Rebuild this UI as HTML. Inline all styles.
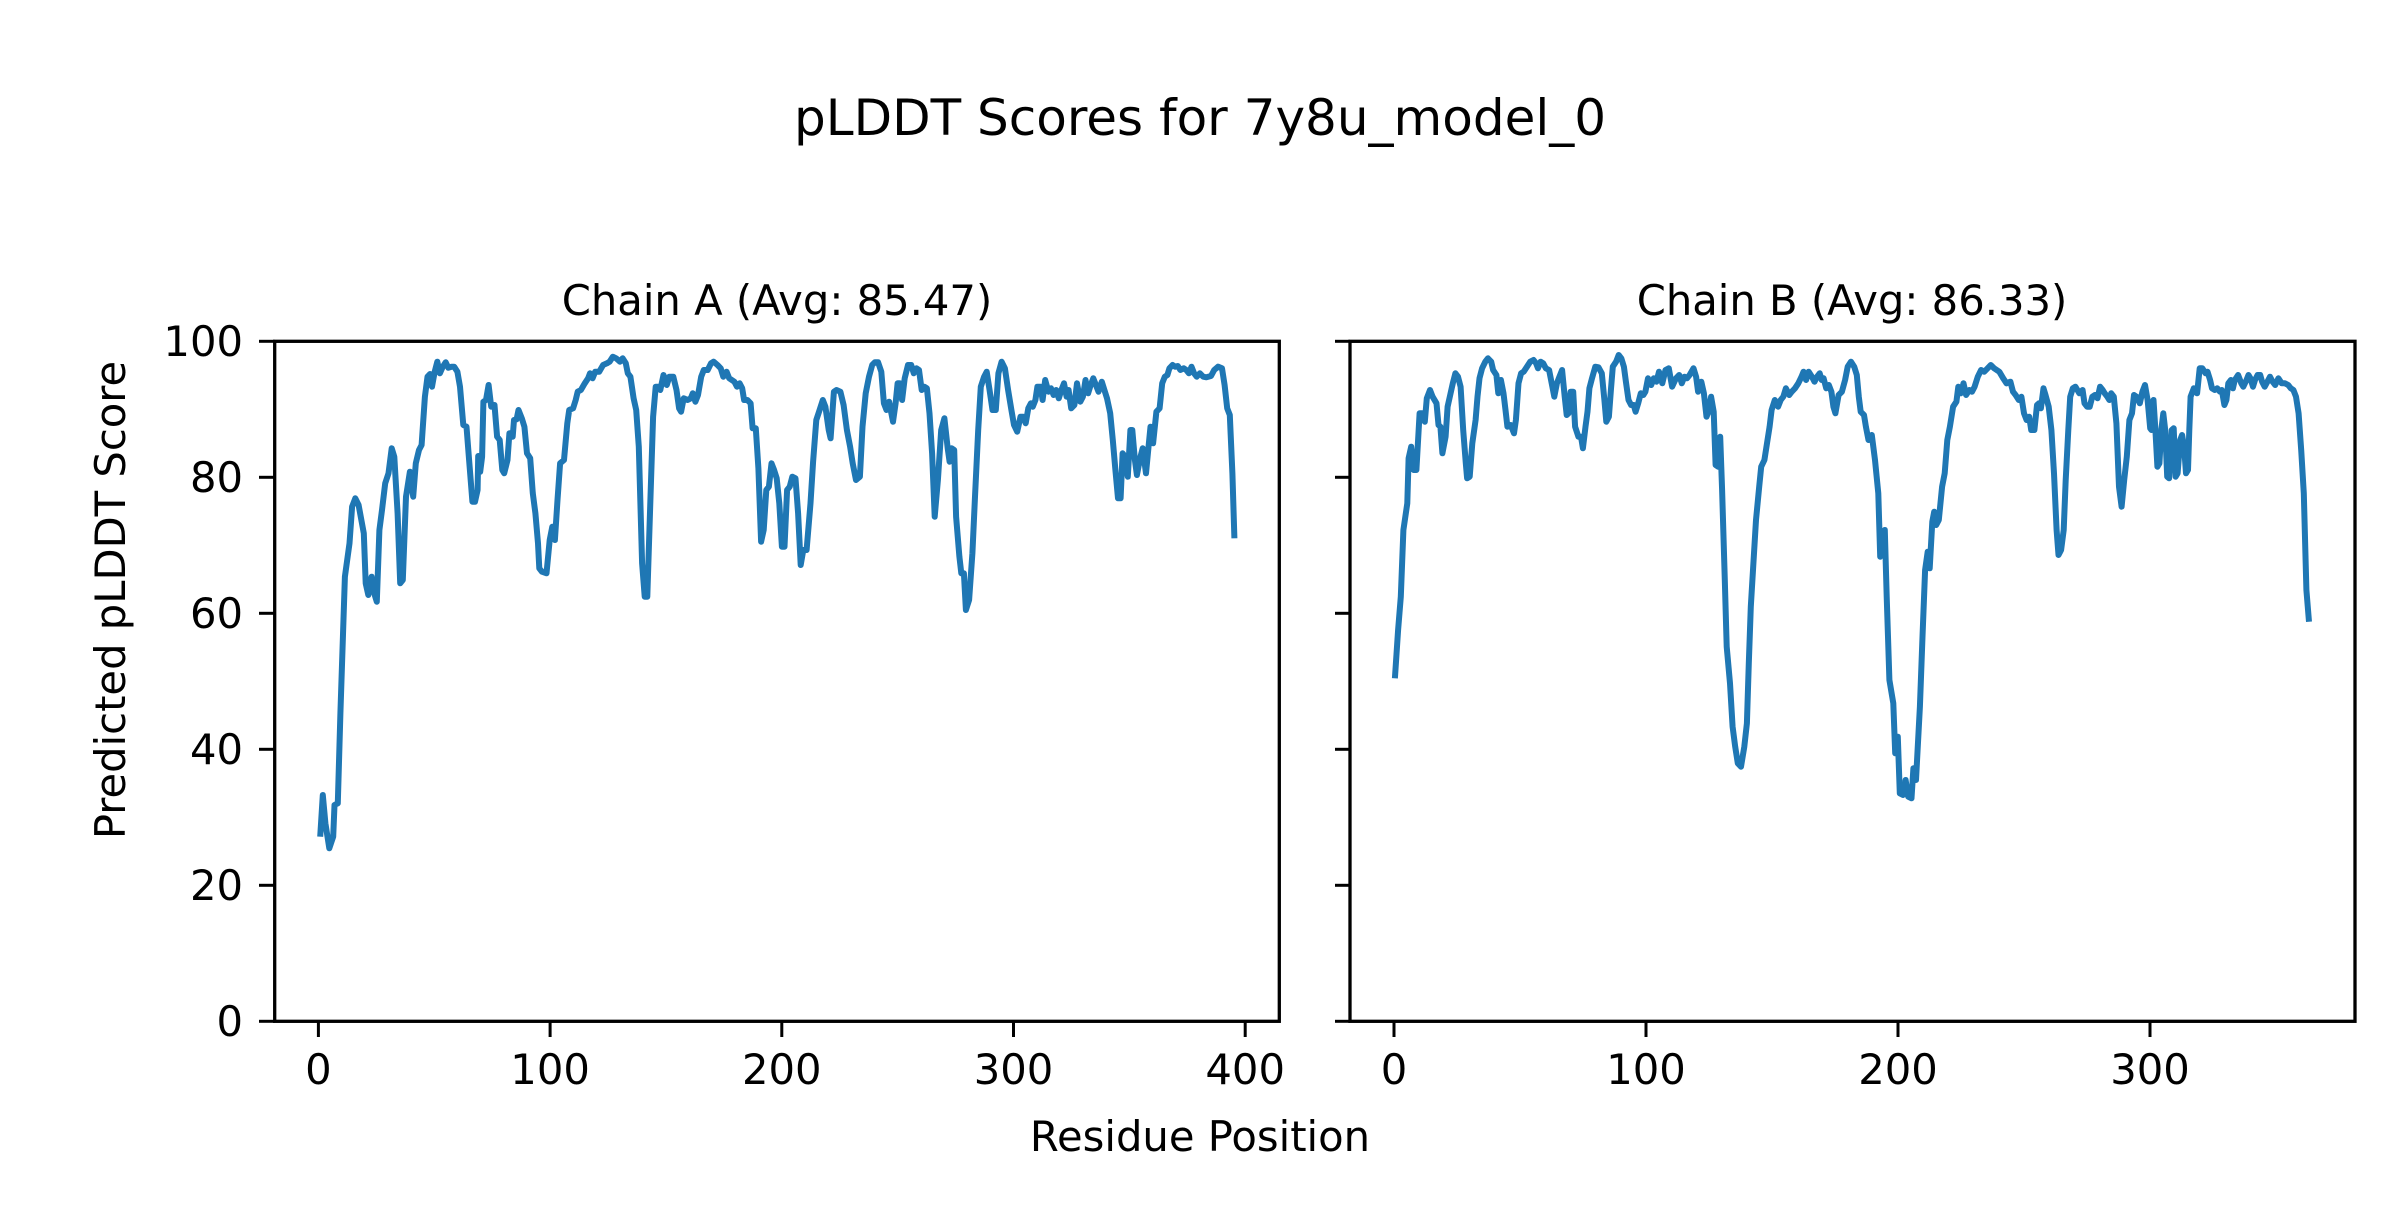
<!DOCTYPE html>
<html><head><meta charset="utf-8"><style>
html,body{margin:0;padding:0;background:#fff}
svg text{font-family:"DejaVu Sans","Liberation Sans",sans-serif;fill:#000}
</style></head><body>
<svg id="s" width="2400" height="1200" viewBox="0 0 2400 1200" xmlns="http://www.w3.org/2000/svg">
<rect width="2400" height="1200" fill="#fff"/>
<text x="1200" y="135" font-size="50" text-anchor="middle">pLDDT Scores for 7y8u_model_0</text>
<text x="777" y="315" font-size="41.7" text-anchor="middle">Chain A (Avg: 85.47)</text>
<text x="1852" y="315" font-size="41.7" text-anchor="middle">Chain B (Avg: 86.33)</text>
<text transform="translate(125,600) rotate(-90)" font-size="41.7" text-anchor="middle">Predicted pLDDT Score</text>
<text x="1200" y="1151" font-size="41.7" text-anchor="middle">Residue Position</text>

<g stroke="#000" stroke-width="3">
<line x1="259" y1="341.3" x2="274.7" y2="341.3"/><line x1="259" y1="477.3" x2="274.7" y2="477.3"/>
<line x1="259" y1="613.3" x2="274.7" y2="613.3"/><line x1="259" y1="749.3" x2="274.7" y2="749.3"/>
<line x1="259" y1="885.3" x2="274.7" y2="885.3"/><line x1="259" y1="1021.3" x2="274.7" y2="1021.3"/>
<line x1="1335" y1="341.3" x2="1350" y2="341.3"/><line x1="1335" y1="477.3" x2="1350" y2="477.3"/>
<line x1="1335" y1="613.3" x2="1350" y2="613.3"/><line x1="1335" y1="749.3" x2="1350" y2="749.3"/>
<line x1="1335" y1="885.3" x2="1350" y2="885.3"/><line x1="1335" y1="1021.3" x2="1350" y2="1021.3"/>
<line x1="318.4" y1="1021" x2="318.4" y2="1037"/><line x1="550.1" y1="1021" x2="550.1" y2="1037"/>
<line x1="781.8" y1="1021" x2="781.8" y2="1037"/><line x1="1013.5" y1="1021" x2="1013.5" y2="1037"/>
<line x1="1245.2" y1="1021" x2="1245.2" y2="1037"/>
<line x1="1394" y1="1021" x2="1394" y2="1037"/><line x1="1646" y1="1021" x2="1646" y2="1037"/>
<line x1="1898" y1="1021" x2="1898" y2="1037"/><line x1="2150" y1="1021" x2="2150" y2="1037"/>
</g>
<g font-size="41.7" text-anchor="end">
<text x="243" y="356">100</text><text x="243" y="492">80</text><text x="243" y="628">60</text>
<text x="243" y="764">40</text><text x="243" y="900">20</text><text x="243" y="1036">0</text>
</g>
<g font-size="41.7" text-anchor="middle">
<text x="318.4" y="1084">0</text><text x="550.1" y="1084">100</text><text x="781.8" y="1084">200</text>
<text x="1013.5" y="1084">300</text><text x="1245.2" y="1084">400</text>
<text x="1394" y="1084">0</text><text x="1646" y="1084">100</text><text x="1898" y="1084">200</text><text x="2150" y="1084">300</text>
</g>

<polyline id="pa" fill="none" stroke="#1f77b4" stroke-width="6" stroke-linejoin="round" points="75,1520 79,1395 83,1480 89,1555 95,1520 97,1425 102,1420 106,1150 113,740 120,640 124,530 129,505 134,525 142,610 145,760 149,795 154,740 158,790 162,815 166,600 170,540 175,460 180,430 185,355 189,380 194,550 198,760 202,750 207,500 213,425 218,500 222,400 227,360 231,345 236,200 240,140 244,132 247,170 251,125 255,95 259,130 263,112 268,97 272,113 277,110 281,110 286,125 290,170 295,285 300,290 304,390 309,515 313,515 317,480 318,378 321,425 324,380 326,215 330,210 334,165 338,230 343,225 347,320 351,330 355,420 358,430 363,390 366,310 371,320 373,270 377,268 380,240 385,265 389,290 393,370 398,385 402,490 406,550 410,640 412,715 416,725 423,730 428,630 432,590 436,630 440,510 444,400 450,390 455,280 458,240 464,235 468,210 471,185 476,180 482,160 487,145 490,130 494,145 498,125 504,125 510,105 516,100 520,95 525,80 530,85 536,95 540,85 545,100 548,130 552,140 557,205 561,240 565,350 570,700 574,800 578,800 583,500 587,260 591,170 595,170 598,180 603,135 608,165 612,140 618,140 623,180 627,235 630,245 634,205 640,210 645,205 648,190 652,215 656,195 661,140 665,120 671,120 676,100 680,95 686,105 691,115 695,140 700,125 704,145 708,150 712,155 716,170 720,160 724,175 727,210 732,210 737,220 740,295 745,295 749,415 753,635 757,600 761,480 765,470 769,400 773,420 777,445 781,520 785,650 789,650 793,480 797,470 801,440 806,445 810,550 814,705 818,660 823,660 829,520 833,395 838,270 843,240 848,210 852,230 857,300 860,325 865,185 869,180 875,185 880,225 885,300 890,350 894,400 899,450 905,440 909,290 914,190 919,140 924,105 928,97 933,97 938,125 942,220 946,240 950,215 956,275 960,220 963,160 966,160 970,210 974,145 979,105 984,105 988,130 992,115 996,120 1000,180 1004,170 1008,175 1012,250 1016,370 1020,560 1025,450 1030,300 1035,265 1040,355 1043,395 1046,355 1050,360 1053,560 1058,680 1061,730 1065,730 1068,840 1073,810 1078,670 1082,500 1087,300 1091,170 1096,140 1100,125 1104,175 1109,240 1114,240 1118,130 1123,95 1128,115 1133,180 1138,240 1142,285 1147,305 1152,260 1156,260 1160,280 1164,235 1168,220 1171,230 1175,210 1178,170 1183,170 1186,210 1190,150 1195,185 1199,175 1203,195 1207,180 1211,205 1215,180 1219,160 1223,200 1226,180 1230,235 1235,225 1239,160 1244,215 1248,200 1252,150 1256,190 1260,165 1264,145 1268,165 1272,185 1277,155 1281,180 1285,205 1290,250 1294,330 1298,420 1302,505 1306,505 1309,370 1313,380 1317,440 1321,300 1324,300 1328,390 1331,435 1336,385 1340,355 1345,430 1348,370 1352,290 1356,340 1361,245 1366,235 1370,160 1374,140 1378,135 1381,115 1386,105 1390,110 1394,108 1398,120 1403,115 1407,120 1411,130 1415,110 1419,130 1423,140 1428,130 1433,140 1438,142 1445,138 1450,120 1456,110 1462,115 1466,165 1470,235 1474,255 1478,430 1481,625"/>
<polyline id="pb" fill="none" stroke="#1f77b4" stroke-width="6" stroke-linejoin="round" points="77,1045 82,900 86,800 90,600 96,520 98,385 102,350 106,420 110,420 115,250 119,250 123,275 126,205 131,180 135,200 141,220 144,285 147,290 150,370 155,320 158,230 162,195 166,160 170,130 174,140 178,170 182,300 186,400 188,445 192,440 196,340 201,270 204,200 207,145 211,115 216,95 220,85 225,95 228,120 233,135 236,190 240,150 244,190 247,240 250,290 255,285 260,310 263,270 267,160 271,130 275,125 280,110 285,95 290,90 294,100 297,115 301,95 305,100 309,115 314,120 318,160 322,200 326,160 329,145 334,120 338,200 341,255 344,250 347,185 351,185 354,290 359,320 363,320 366,355 370,290 373,245 376,175 380,145 385,110 390,112 395,130 399,210 402,275 406,260 409,180 412,110 417,95 421,75 425,85 429,110 432,155 436,210 440,225 444,225 447,245 451,220 455,190 459,195 462,185 466,145 471,165 475,145 479,155 483,125 488,160 493,120 498,115 503,170 509,145 514,135 518,160 522,140 526,145 530,135 536,115 540,140 543,185 548,155 552,190 556,260 559,245 563,200 567,245 570,405 574,410 577,320 580,480 584,750 587,950 592,1060 596,1190 600,1250 604,1300 609,1310 614,1250 618,1180 621,1000 624,830 628,700 632,570 637,470 640,410 645,390 649,340 653,290 656,240 661,210 666,230 670,210 674,200 678,175 683,195 687,185 692,175 697,160 702,140 705,125 709,150 713,125 718,140 722,155 726,140 730,130 733,150 736,145 740,175 744,165 748,185 751,230 754,250 759,195 764,185 769,150 773,110 778,95 783,110 787,135 790,200 793,245 798,255 801,290 805,330 810,315 815,390 820,490 823,680 826,670 830,600 833,800 837,1050 843,1120 846,1270 850,1220 853,1390 858,1395 862,1350 866,1400 871,1405 874,1315 878,1350 884,1130 888,920 892,720 896,665 899,715 903,575 906,545 909,585 913,570 918,470 922,430 926,330 930,290 935,230 940,215 943,170 947,190 951,160 955,195 960,180 964,185 968,170 973,140 978,120 983,125 988,115 993,105 998,115 1002,120 1006,125 1012,145 1017,160 1023,155 1027,185 1031,195 1036,210 1040,200 1044,250 1048,270 1052,260 1055,300 1060,300 1064,225 1067,220 1070,235 1074,175 1077,195 1082,230 1086,300 1090,430 1094,600 1097,675 1101,660 1105,600 1108,450 1112,300 1115,200 1119,175 1123,170 1126,180 1129,190 1134,180 1137,220 1141,230 1145,230 1149,200 1153,195 1157,205 1161,170 1165,180 1168,190 1172,200 1175,210 1178,190 1182,200 1186,280 1190,470 1194,530 1198,450 1202,380 1206,270 1210,250 1213,195 1217,200 1222,220 1226,185 1230,165 1234,210 1238,295 1240,300 1243,210 1246,300 1249,410 1252,400 1255,300 1258,250 1261,300 1264,440 1267,445 1271,300 1274,295 1277,440 1280,430 1284,330 1287,315 1290,350 1293,430 1296,420 1298,300 1300,200 1305,175 1310,190 1314,115 1318,115 1323,130 1326,125 1330,150 1333,175 1337,180 1341,175 1345,185 1348,180 1352,225 1355,210 1358,160 1362,150 1365,175 1368,150 1373,135 1378,160 1381,170 1386,150 1389,135 1392,145 1396,170 1399,150 1403,135 1407,135 1410,155 1414,170 1418,155 1422,140 1426,155 1430,165 1435,145 1440,160 1445,160 1450,165 1454,175 1458,180 1462,200 1466,250 1470,360 1474,490 1478,780 1482,875"/>
<rect x="274.7" y="341.3" width="1004.6" height="680" fill="none" stroke="#000" stroke-width="3.3"/>
<rect x="1350" y="341.3" width="1005" height="680" fill="none" stroke="#000" stroke-width="3.3"/>
</svg>
<script>
function fix(id,tx,sx){var e=document.getElementById(id);var p=e.getAttribute('points').trim().split(/\s+/).map(function(s){var a=s.split(',');return (tx+(+a[0])*sx).toFixed(1)+','+(330+(+a[1])/3).toFixed(1);});e.setAttribute('points',p.join(' '));}
fix('pa',271.45,0.6502);fix('pb',1344.8,0.6506);
</script>
</body></html>
